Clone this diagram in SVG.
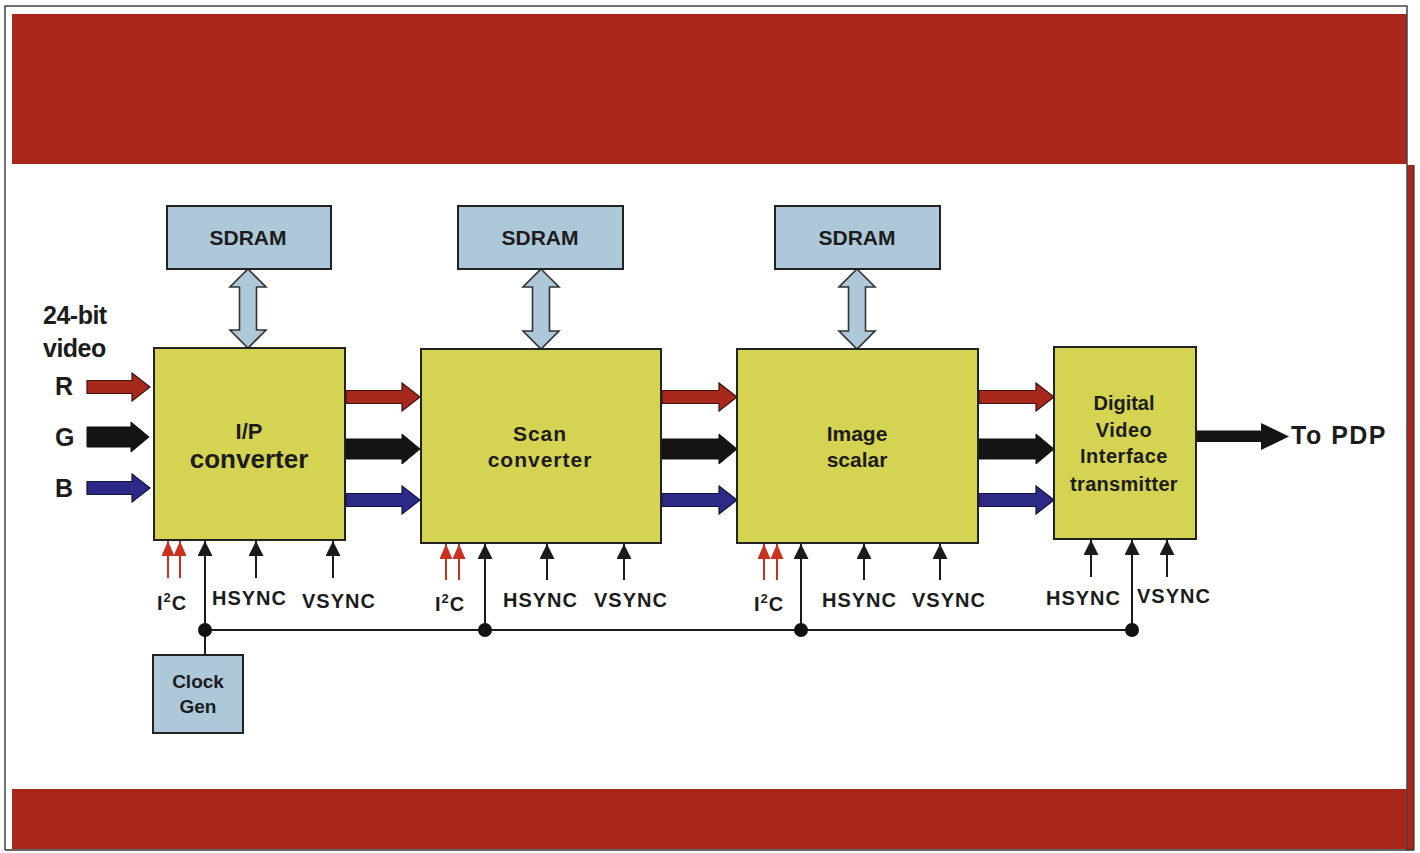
<svg xmlns="http://www.w3.org/2000/svg" width="1420" height="853" viewBox="0 0 1420 853">
<style>
text{font-family:"Liberation Sans",Arial,sans-serif;font-weight:bold;fill:#1c1c1c}
.blk{fill:#d5d452;stroke:#222;stroke-width:2}
.mem{fill:#adc8d8;stroke:#222;stroke-width:2}
.dbl{fill:#adc8d8;stroke:#333;stroke-width:1.6}
.ar{fill:#a8281c;stroke:#3a1410;stroke-width:1.2}
.ag{fill:#141414;stroke:#111;stroke-width:1}
.ab{fill:#2c2a86;stroke:#14143a;stroke-width:1.2}
.sig{stroke:#1a1a1a;stroke-width:2;fill:none;marker-end:url(#ah)}
.i2c{stroke:#c8321e;stroke-width:2;fill:none;marker-end:url(#ahr)}
.bus{stroke:#1a1a1a;stroke-width:2;fill:none}
.lbl{font-size:20px;letter-spacing:1px}
.big{font-size:21px}
</style>
<defs>
<marker id="ah" viewBox="0 0 15 15" refX="15" refY="7.5" markerWidth="15" markerHeight="15" markerUnits="userSpaceOnUse" orient="auto"><path d="M0,0 L15,7.5 L0,15 Z" fill="#1a1a1a"/></marker>
<marker id="ahr" viewBox="0 0 15 13" refX="15" refY="6.5" markerWidth="15" markerHeight="13" markerUnits="userSpaceOnUse" orient="auto"><path d="M0,0 L15,6.5 L0,13 Z" fill="#c8321e"/></marker>
</defs>
<rect x="0" y="0" width="1420" height="853" fill="#ffffff"/>
<g id="frame">
<rect x="12" y="14" width="1395" height="150" fill="#a9261a"/>
<rect x="12" y="789" width="1400" height="60" fill="#a9261a"/>
<rect x="1407" y="165" width="7" height="685" fill="#a9261a"/>
<path d="M5,850 V6 H1407 V850" fill="none" stroke="#444" stroke-width="1.5"/>
<line x1="5" y1="850" x2="1414" y2="850" stroke="#333" stroke-width="1.5"/>
<line x1="1414" y1="165" x2="1414" y2="850" stroke="#3a1410" stroke-width="1"/>
</g>
<g id="connectors">
<path class="dbl" d="M248,269 L266,287 H256.5 V330 H266 L248,348 L230,330 H239.5 V287 H230 Z"/>
<path class="dbl" d="M541,269 L559,287 H549.5 V331 H559 L541,349 L523,331 H532.5 V287 H523 Z"/>
<path class="dbl" d="M857,269 L875,287 H865.5 V331 H875 L857,349 L839,331 H848.5 V287 H839 Z"/>
<path class="ar" d="M87,380.5 H132 V373 L150,387 L132,401 V393.5 H87 Z"/>
<path class="ag" d="M87,427 H131 V422 L149,437 L131,452 V447 H87 Z"/>
<path class="ab" d="M87,481.5 H132 V474 L150,488 L132,502 V494.5 H87 Z"/>
<path class="ar" d="M346,390.5 H402 V383 L420,397 L402,411 V403.5 H346 Z"/>
<path class="ag" d="M346,439 H402 V434 L420,449 L402,464 V459 H346 Z"/>
<path class="ab" d="M346,493.5 H402 V486 L420,500 L402,514 V506.5 H346 Z"/>
<path class="ar" d="M662,390.5 H719 V383 L737,397 L719,411 V403.5 H662 Z"/>
<path class="ag" d="M662,439 H719 V434 L737,449 L719,464 V459 H662 Z"/>
<path class="ab" d="M662,493.5 H719 V486 L737,500 L719,514 V506.5 H662 Z"/>
<path class="ar" d="M979,390.5 H1036 V383 L1054,397 L1036,411 V403.5 H979 Z"/>
<path class="ag" d="M979,439 H1036 V434 L1054,449 L1036,464 V459 H979 Z"/>
<path class="ab" d="M979,493.5 H1036 V486 L1054,500 L1036,514 V506.5 H979 Z"/>
<path d="M1197,430.5 H1261 V423 L1289,436.5 L1261,450 V442 H1197 Z" fill="#141414"/>
<line class="i2c" x1="168" y1="578" x2="168" y2="541"/>
<line class="i2c" x1="180" y1="578" x2="180" y2="541"/>
<line class="sig" x1="205" y1="655" x2="205" y2="541"/>
<line class="sig" x1="256" y1="578" x2="256" y2="541"/>
<line class="sig" x1="333" y1="578" x2="333" y2="541"/>
<line class="i2c" x1="446" y1="580" x2="446" y2="544"/>
<line class="i2c" x1="459" y1="580" x2="459" y2="544"/>
<line class="sig" x1="485" y1="630" x2="485" y2="544"/>
<line class="sig" x1="547" y1="580" x2="547" y2="544"/>
<line class="sig" x1="624" y1="580" x2="624" y2="544"/>
<line class="i2c" x1="764" y1="580" x2="764" y2="544"/>
<line class="i2c" x1="777" y1="580" x2="777" y2="544"/>
<line class="sig" x1="801" y1="630" x2="801" y2="544"/>
<line class="sig" x1="864" y1="580" x2="864" y2="544"/>
<line class="sig" x1="940" y1="580" x2="940" y2="544"/>
<line class="sig" x1="1091" y1="577" x2="1091" y2="540"/>
<line class="sig" x1="1132" y1="630" x2="1132" y2="540"/>
<line class="sig" x1="1167" y1="577" x2="1167" y2="540"/>
<line class="bus" x1="205" y1="630" x2="1132" y2="630"/>
<circle cx="205" cy="630" r="7" fill="#111"/>
<circle cx="485" cy="630" r="7" fill="#111"/>
<circle cx="801" cy="630" r="7" fill="#111"/>
<circle cx="1132" cy="630" r="7" fill="#111"/>
</g>
<g id="sdram1"><rect class="mem" x="167" y="206" width="164" height="63"/><text class="big" x="248" y="245" text-anchor="middle">SDRAM</text></g>
<g id="sdram2"><rect class="mem" x="458" y="206" width="165" height="63"/><text class="big" x="540" y="245" text-anchor="middle">SDRAM</text></g>
<g id="sdram3"><rect class="mem" x="775" y="206" width="165" height="63"/><text class="big" x="857" y="245" text-anchor="middle">SDRAM</text></g>
<g id="ip"><rect class="blk" x="154" y="348" width="191" height="192"/>
<text x="249" y="439" text-anchor="middle" font-size="22">I/P</text>
<text x="249" y="468" text-anchor="middle" font-size="26">converter</text></g>
<g id="scan"><rect class="blk" x="421" y="349" width="240" height="194"/>
<text x="540" y="441" text-anchor="middle" font-size="21" letter-spacing="1">Scan</text>
<text x="540" y="467" text-anchor="middle" font-size="21" letter-spacing="1">converter</text></g>
<g id="scalar"><rect class="blk" x="737" y="349" width="241" height="194"/>
<text x="857" y="441" text-anchor="middle" font-size="21">Image</text>
<text x="857" y="467" text-anchor="middle" font-size="21">scalar</text></g>
<g id="dvi"><rect class="blk" x="1054" y="347" width="142" height="192"/>
<text x="1124" y="410" text-anchor="middle" font-size="20">Digital</text>
<text x="1124" y="437" text-anchor="middle" font-size="20" letter-spacing="0.5">Video</text>
<text x="1124" y="463" text-anchor="middle" font-size="20" letter-spacing="0.5">Interface</text>
<text x="1124" y="491" text-anchor="middle" font-size="20" letter-spacing="0.3">transmitter</text></g>
<g id="clockgen"><rect class="mem" x="153" y="655" width="90" height="78"/>
<text x="198" y="688" text-anchor="middle" font-size="19">Clock</text>
<text x="198" y="713" text-anchor="middle" font-size="19">Gen</text></g>
<g id="labels">
<text x="43" y="324" font-size="25" letter-spacing="-0.5">24-bit</text>
<text x="43" y="357" font-size="25" letter-spacing="-0.5">video</text>
<text x="55" y="395" font-size="25">R</text>
<text x="55" y="446" font-size="25">G</text>
<text x="55" y="497" font-size="25">B</text>
<text x="1291" y="444" font-size="25" letter-spacing="1.5">To PDP</text>
<text class="lbl" x="157" y="610">I<tspan font-size="13" dy="-8">2</tspan><tspan dy="8">C</tspan></text>
<text class="lbl" x="212" y="605">HSYNC</text>
<text class="lbl" x="302" y="608">VSYNC</text>
<text class="lbl" x="435" y="611">I<tspan font-size="13" dy="-8">2</tspan><tspan dy="8">C</tspan></text>
<text class="lbl" x="503" y="607">HSYNC</text>
<text class="lbl" x="594" y="607">VSYNC</text>
<text class="lbl" x="754" y="611">I<tspan font-size="13" dy="-8">2</tspan><tspan dy="8">C</tspan></text>
<text class="lbl" x="822" y="607">HSYNC</text>
<text class="lbl" x="912" y="607">VSYNC</text>
<text class="lbl" x="1046" y="605">HSYNC</text>
<text class="lbl" x="1137" y="603">VSYNC</text>
</g>
</svg>
